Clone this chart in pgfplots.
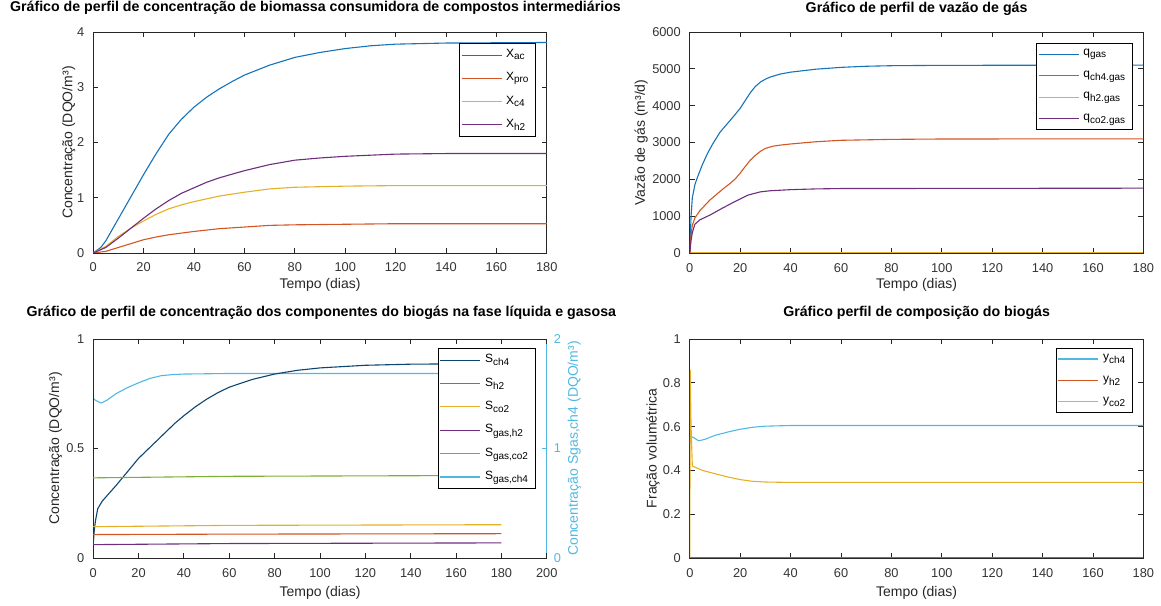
\documentclass[border=0pt]{standalone}
\usepackage{fontspec}
\setmainfont{Liberation Sans}
\usepackage{pgfplots}
\pgfplotsset{compat=1.18}
\definecolor{c1}{RGB}{20,115,185}
\definecolor{c2}{RGB}{210,85,35}
\definecolor{c3}{RGB}{230,175,40}
\definecolor{c4}{RGB}{110,45,125}
\definecolor{c5}{RGB}{125,175,55}
\definecolor{c6}{RGB}{80,185,225}
\pgfplotsset{
 mat/.style={
   scale only axis, width=226.8pt, height=110.5pt, anchor=south west,
   xmin=0, xmax=180, xtick={0,20,...,180},
   tick align=inside, major tick length=2.5pt,
   axis line style={black!85, line width=0.45pt},
   tick style={black!85, line width=0.45pt},
   tick label style={font=\fontsize{6.4}{7.5}\selectfont, text=black!80},
   label style={font=\fontsize{7}{8}\selectfont, text=black!85},
   /pgf/number format/assume math mode=true,
   /pgf/number format/1000 sep={},
   scaled y ticks=false,
   xticklabel style={yshift=-1.5pt},
   yticklabel style={xshift=-1pt},
   title style={anchor=base, yshift=4pt, font=\bfseries\fontsize{7.1}{8}\selectfont},
   legend style={draw=black, fill=white, font=\fontsize{6}{7}\selectfont, anchor=north east, legend cell align=left, inner sep=1pt, row sep=2pt},
   legend image code/.code={\draw[##1] (0pt,0pt) -- (20pt,0pt);},
   every axis plot/.append style={line width=0.55pt},
 }
}
\begin{document}
\begin{tikzpicture}
\useasboundingbox (0,0) rectangle (580.5pt,302.5pt);
% ---------------- top left
\begin{axis}[mat, at={(46.6pt,176pt)},
  ymin=0, ymax=4, ytick={0,1,2,3,4},
  title={Gráfico de perfil de concentração de biomassa consumidora de compostos intermediários},
  title style={at={(0.49,1)}},
  xlabel={Tempo (dias)}, ylabel={Concentração (DQO/m³)},
  xlabel style={at={(axis description cs:0.5,-0.145)}, anchor=center},
  ylabel style={at={(axis description cs:-0.054,0.5)}, anchor=center},
  legend style={at={(0.976,0.95)}}]
\addplot[c1] coordinates {(0,0)(3,0.1)(5,0.22)(10,0.62)(15,1.02)(20,1.42)(25,1.8)(30,2.15)(35,2.42)(40,2.64)(45,2.82)(50,2.97)(55,3.1)(60,3.22)(70,3.4)(80,3.54)(90,3.63)(100,3.7)(110,3.75)(120,3.78)(140,3.8)(180,3.81)};
\addlegendentry{X\textsubscript{ac}}
\addplot[c2] coordinates {(0,0)(5,0.03)(10,0.1)(15,0.17)(20,0.24)(25,0.29)(30,0.33)(40,0.39)(50,0.44)(60,0.47)(70,0.5)(80,0.51)(100,0.52)(120,0.53)(180,0.53)};
\addlegendentry{X\textsubscript{pro}}
\addplot[c3] coordinates {(0,0)(5,0.12)(10,0.3)(15,0.45)(20,0.58)(25,0.7)(30,0.8)(35,0.87)(40,0.93)(50,1.03)(60,1.1)(70,1.16)(80,1.19)(100,1.21)(120,1.22)(180,1.22)};
\addlegendentry{X\textsubscript{c4}}
\addplot[c4] coordinates {(0,0)(5,0.1)(10,0.27)(15,0.45)(20,0.63)(25,0.8)(30,0.95)(35,1.08)(40,1.18)(45,1.28)(50,1.36)(60,1.49)(70,1.6)(80,1.68)(90,1.72)(100,1.75)(120,1.79)(140,1.8)(180,1.8)};
\addlegendentry{X\textsubscript{h2}}
\end{axis}
% ---------------- top right
\begin{axis}[mat, at={(344.9pt,176pt)},
  ymin=0, ymax=6000, ytick={0,1000,...,6000},
  title={Gráfico de perfil de vazão de gás},
  title style={at={(0.5,1)}},
  xlabel={Tempo (dias)}, ylabel={Vazão de gás (m³/d)},
  xlabel style={at={(axis description cs:0.5,-0.145)}, anchor=center},
  ylabel style={at={(axis description cs:-0.107,0.5)}, anchor=center},
  legend style={at={(0.976,0.95)}}]
\addplot[c1] coordinates {(0,0)(0.5,1000)(1,1500)(2,1850)(3,2050)(5,2400)(7,2700)(9,2950)(12,3280)(16,3600)(18,3760)(20,3930)(22,4140)(24,4350)(26,4520)(28,4640)(30,4720)(32,4780)(36,4860)(40,4910)(50,4990)(60,5040)(70,5070)(80,5085)(100,5095)(180,5100)};
\addlegendentry{q\textsubscript{gas}}
\addplot[c2] coordinates {(0,0)(0.5,500)(1,750)(2,950)(4,1150)(8,1440)(13,1730)(16,1890)(18,2010)(20,2170)(22,2350)(24,2520)(26,2650)(28,2760)(30,2840)(33,2900)(36,2930)(40,2960)(50,3020)(60,3060)(80,3085)(100,3095)(180,3100)};
\addlegendentry{q\textsubscript{ch4.gas}}
\addplot[c3] coordinates {(0,0)(180,0)};
\addlegendentry{q\textsubscript{h2.gas}}
\addplot[c4] coordinates {(0,0)(0.5,350)(1,550)(2,780)(4,900)(8,1030)(13,1220)(18,1400)(23,1570)(28,1660)(32,1690)(40,1720)(50,1740)(60,1750)(180,1760)};
\addlegendentry{q\textsubscript{co2.gas}}
\end{axis}
% ---------------- bottom left: right axis first
\begin{axis}[mat, at={(46.6pt,23.5pt)}, height=109.5pt,
  xmax=200, axis x line=none, axis y line*=right,
  ymin=0, ymax=2, ytick={0,1,2},
  y axis line style={c6}, ytick style={c6}, yticklabel style={text=c6, xshift=1pt},
  ylabel={Concentração Sgas,ch4 (DQO/m³)},
  ylabel style={text=c6, at={(axis description cs:1.0604,0.5)}, anchor=center}]
\addplot[c6] coordinates {(0,1.46)(1,1.44)(3.5,1.415)(6,1.44)(10,1.5)(15,1.555)(20,1.6)(25,1.64)(30,1.665)(35,1.675)(40,1.68)(60,1.685)(180,1.685)};
\end{axis}
\begin{axis}[mat, at={(46.6pt,23.5pt)}, height=109.5pt,
  xmax=200, xtick={0,20,...,200}, axis x line*=box, axis y line*=left,
  ymin=0, ymax=1, ytick={0,0.5,1},
  title={Gráfico de perfil de concentração dos componentes do biogás na fase líquida e gasosa},
  title style={at={(0.503,1)}, yshift=1pt},
  xlabel={Tempo (dias)}, ylabel={Concentração (DQO/m³)},
  xlabel style={at={(axis description cs:0.5,-0.16)}, anchor=center},
  ylabel style={at={(axis description cs:-0.083,0.5)}, anchor=center},
  legend style={at={(0.975,0.959)}}]
\addplot[c1!60!black] coordinates {(0,0.06)(0.5,0.13)(1,0.17)(2,0.225)(4,0.26)(7,0.295)(10,0.33)(14,0.38)(20,0.455)(25,0.505)(30,0.555)(36,0.615)(40,0.65)(45,0.69)(50,0.725)(55,0.755)(60,0.78)(70,0.815)(80,0.84)(90,0.857)(100,0.868)(120,0.88)(140,0.885)(180,0.888)};
\addlegendentry{S\textsubscript{ch4}}
\addplot[c2] coordinates {(0,0.107)(60,0.109)(180,0.111)};
\addlegendentry{S\textsubscript{h2}}
\addplot[c3] coordinates {(0,0.143)(60,0.149)(180,0.152)};
\addlegendentry{S\textsubscript{co2}}
\addplot[c4] coordinates {(0,0.061)(60,0.066)(180,0.069)};
\addlegendentry{S\textsubscript{gas,h2}}
\addplot[c5] coordinates {(0,0.366)(60,0.373)(180,0.377)};
\addlegendentry{S\textsubscript{gas,co2}}
\addlegendimage{c6, line width=0.55pt}
\addlegendentry{S\textsubscript{gas,ch4}}
\end{axis}
% ---------------- bottom right
\begin{axis}[mat, at={(344.9pt,23.5pt)}, height=109.5pt,
  ymin=0, ymax=1, ytick={0,0.2,...,1},
  title={Gráfico perfil de composição do biogás},
  title style={at={(0.5,1)}, yshift=1pt},
  xlabel={Tempo (dias)}, ylabel={Fração volumétrica},
  xlabel style={at={(axis description cs:0.5,-0.16)}, anchor=center},
  ylabel style={at={(axis description cs:-0.081,0.5)}, anchor=center},
  legend style={at={(0.976,0.959)}}]
\addplot[c6] coordinates {(0,0.52)(0.5,0.555)(1.5,0.55)(3.5,0.535)(6,0.542)(10,0.56)(15,0.575)(20,0.588)(25,0.597)(30,0.602)(40,0.605)(180,0.605)};
\addlegendentry{y\textsubscript{ch4}}
\addplot[c2] coordinates {(0,0)(180,0)};
\addlegendentry{y\textsubscript{h2}}
\addplot[c3] coordinates {(0,0)(0.15,0.86)(0.5,0.6)(1,0.42)(3,0.41)(5,0.4)(10,0.385)(15,0.37)(20,0.358)(25,0.35)(30,0.347)(40,0.345)(180,0.345)};
\addlegendentry{y\textsubscript{co2}}
\end{axis}
\end{tikzpicture}
\end{document}
